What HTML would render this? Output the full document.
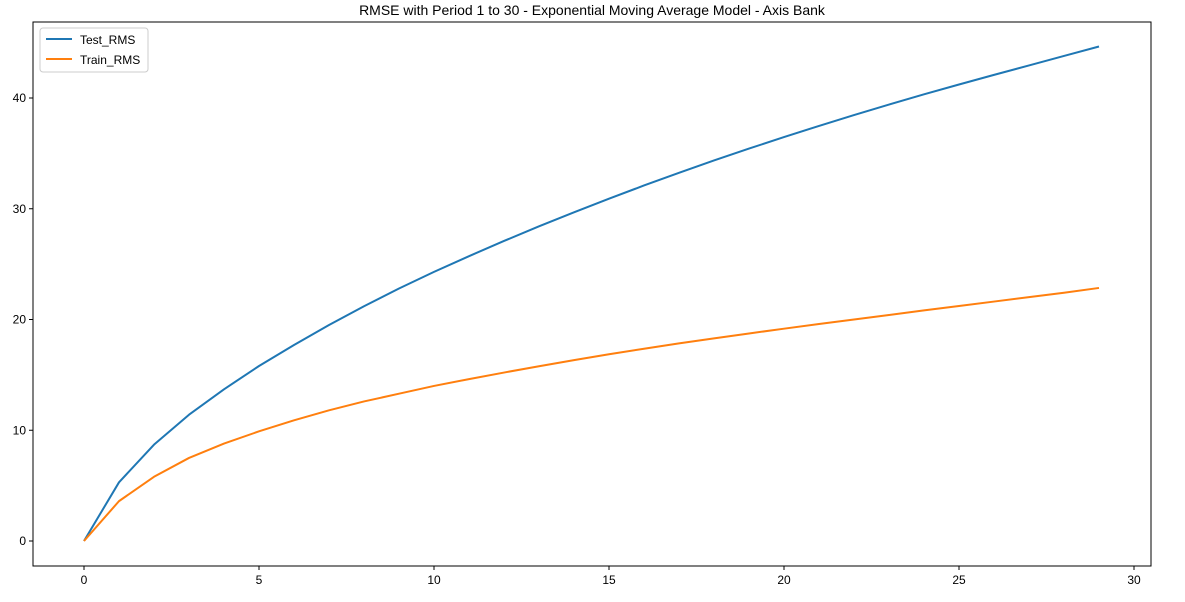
<!DOCTYPE html>
<html><head><meta charset="utf-8"><style>
body{margin:0;background:#fff;font-family:"Liberation Sans","DejaVu Sans",sans-serif;}
svg text{font-family:"Liberation Sans","DejaVu Sans",sans-serif;}
</style></head><body>
<svg id="chart" width="1185" height="597">
<text x="592" y="15" text-anchor="middle" font-size="14" fill="#000">RMSE with Period 1 to 30 - Exponential Moving Average Model - Axis Bank</text>
<rect x="33" y="22" width="1118" height="544" fill="none" stroke="#000" stroke-width="1"/>
<g id="axes"></g><g id="series"></g>
<g>
<rect x="40" y="28" width="108" height="44" rx="3" fill="#fff" stroke="#ccc"/>
<line x1="46" y1="39" x2="72" y2="39" stroke="#1f77b4" stroke-width="2"/>
<text x="80" y="44" font-size="12">Test_RMS</text>
<line x1="46" y1="59" x2="72" y2="59" stroke="#ff7f0e" stroke-width="2"/>
<text x="80" y="64" font-size="12">Train_RMS</text>
</g>
</svg>
<script>
const periods=[0,1,2,3,4,5,6,7,8,9,10,11,12,13,14,15,16,17,18,19,20,21,22,23,24,25,26,27,28,29];
const testRMS=[0,5.3,8.7,11.4,13.7,15.8,17.7,19.5,21.2,22.8,24.3,25.72,27.09,28.41,29.68,30.91,32.1,33.25,34.36,35.43,36.47,37.48,38.46,39.41,40.33,41.22,42.09,42.94,43.8,44.65];
const trainRMS=[0,3.6,5.8,7.5,8.8,9.9,10.9,11.8,12.6,13.3,14.0,14.62,15.21,15.78,16.33,16.86,17.36,17.84,18.3,18.74,19.17,19.59,20.0,20.41,20.82,21.22,21.62,22.02,22.42,22.85];
const xTicks=[0,5,10,15,20,25,30];
const yTicks=[0,10,20,30,40];
const NS="http://www.w3.org/2000/svg";
const sx=v=>84+v*35, sy=v=>541-v*11.075;
const axes=document.getElementById('axes'), ser=document.getElementById('series');
function mk(t,a,p){const e=document.createElementNS(NS,t);for(const k in a)e.setAttribute(k,a[k]);p.appendChild(e);return e;}
xTicks.forEach(v=>{
 const l=mk('line',{x1:sx(v),x2:sx(v),y1:566,y2:570,stroke:'#000'},axes);
 
 
 const t=mk('text',{x:sx(v),y:584,'text-anchor':'middle','font-size':12},axes);t.textContent=v;
 
 
});
yTicks.forEach(v=>{
 const l=mk('line',{x1:29,x2:33,y1:sy(v),y2:sy(v),stroke:'#000'},axes);
 
 
 const t=mk('text',{x:26,y:sy(v)+4,'text-anchor':'end','font-size':12},axes);t.textContent=v;
 
 
});
function line(vals,col,name){
 const p=mk('polyline',{points:vals.map((v,i)=>sx(periods[i])+','+sy(v)).join(' '),fill:'none',stroke:col,'stroke-width':2,'stroke-linejoin':'round'},ser);
 
 
}
line(testRMS,'#1f77b4','test-rms-line');
line(trainRMS,'#ff7f0e','train-rms-line');
</script>
</body></html>
